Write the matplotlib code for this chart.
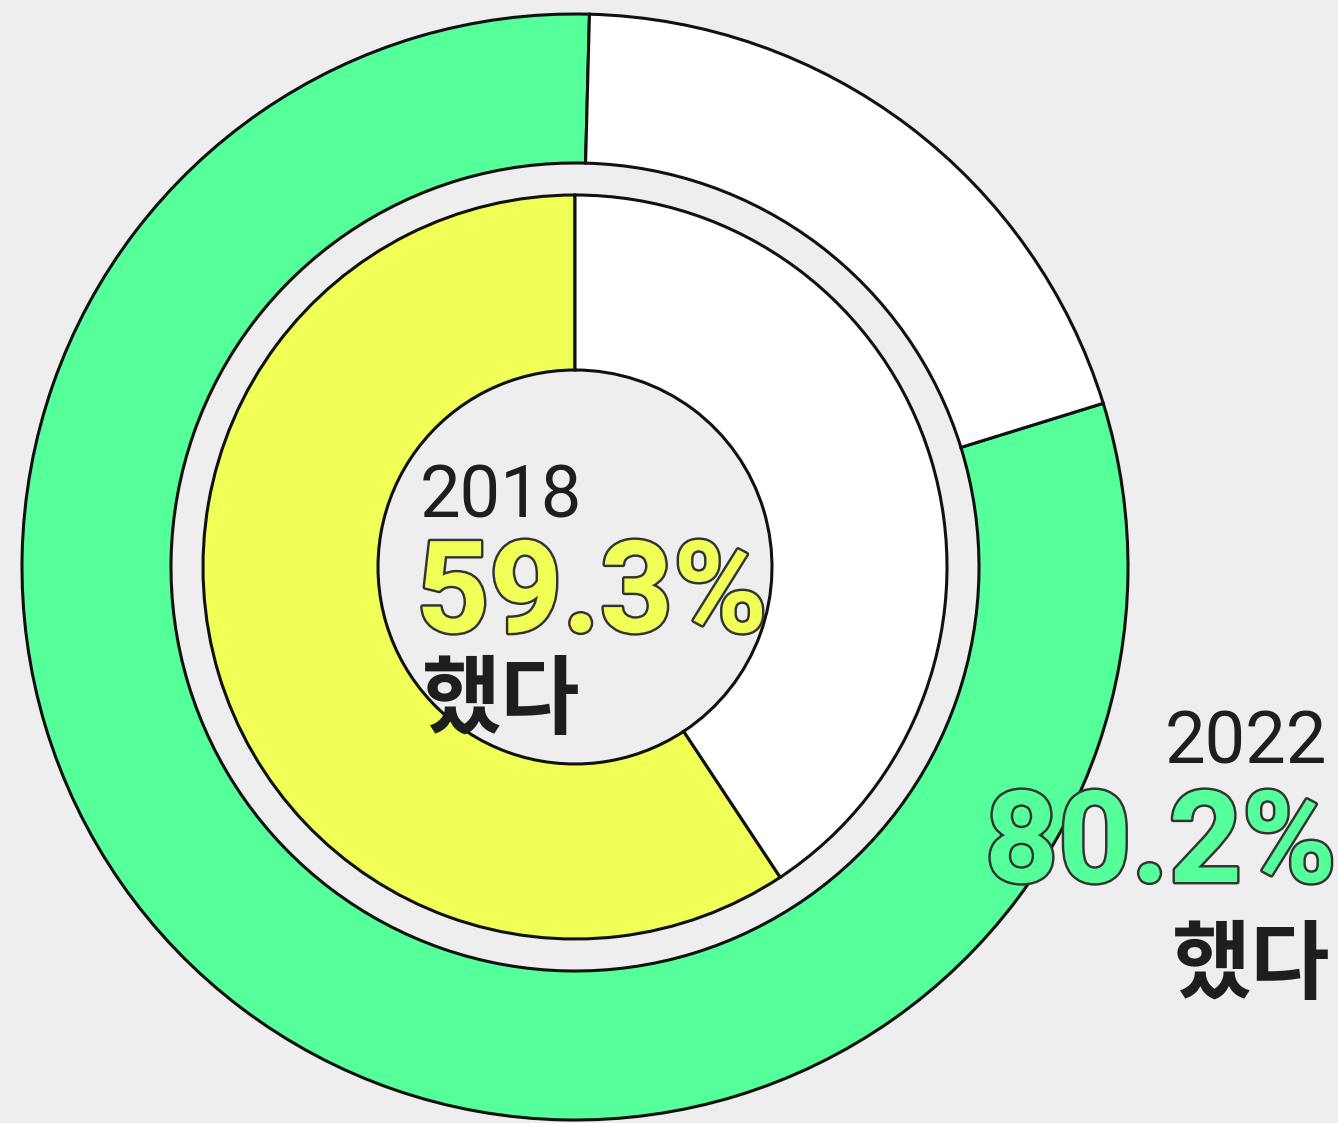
import matplotlib
matplotlib.use("Agg")
import matplotlib.pyplot as plt
import matplotlib.patheffects as pe

# Data
years = ["2022", "2018"]
outer_values = [80.2, 19.8]   # 2022: 했다 / 나머지
inner_values = [59.3, 40.7]   # 2018: 했다 / 나머지
outer_label = "80.2%"
inner_label = "59.3%"
verb = "했다"

BG = "#EEEEEE"
GREEN = "#55FF99"
YELLOW = "#F0FF55"
WHITE = "#FFFFFF"
INK = "#1E1E1E"

W, H = 1338, 1123
fig = plt.figure(figsize=(W / 100, H / 100), dpi=100, facecolor=BG)
ax = fig.add_axes([0, 0, 1, 1])
ax.set_facecolor(BG)

cx, cy = 575, H - 567
r_out, r_out_in = 553, 404
r_in, r_in_in = 372, 197

ax.pie(outer_values, colors=[GREEN, WHITE], startangle=88.5, counterclock=True,
       radius=r_out, center=(cx, cy), frame=True,
       wedgeprops=dict(width=r_out - r_out_in, edgecolor="#111111", linewidth=2.2))
ax.pie(inner_values, colors=[YELLOW, WHITE], startangle=90, counterclock=True,
       radius=r_in, center=(cx, cy), frame=True,
       wedgeprops=dict(width=r_in - r_in_in, edgecolor="#111111", linewidth=2.2))
ax.set_xlim(0, W)
ax.set_ylim(0, H)
ax.set_aspect("equal")
ax.axis("off")

def yy(py):
    return H - py

outline = [pe.Stroke(linewidth=3.5, foreground="#333333"), pe.Normal()]

# 2018 labels (center)
ax.text(420, yy(517), years[1], fontsize=52, family=["Roboto", "DejaVu Sans"],
        color=INK, ha="left", va="baseline")
ax.text(416, yy(632), inner_label, fontsize=92, family=["Roboto", "DejaVu Sans"],
        fontweight="bold", color=YELLOW, ha="left", va="baseline", path_effects=outline)
ax.text(422, yy(702), verb, fontsize=62, family=["Noto Sans CJK KR", "DejaVu Sans"],
        fontweight="bold", color=INK, ha="left", va="center")

# 2022 labels (right)
ax.text(1327, yy(763), years[0], fontsize=52, family=["Roboto", "DejaVu Sans"],
        color=INK, ha="right", va="baseline")
ax.text(1336, yy(882), outer_label, fontsize=92, family=["Roboto", "DejaVu Sans"],
        fontweight="bold", color=GREEN, ha="right", va="baseline", path_effects=outline)
ax.text(1330, yy(967), verb, fontsize=62, family=["Noto Sans CJK KR", "DejaVu Sans"],
        fontweight="bold", color=INK, ha="right", va="center")

fig.savefig("out.png", dpi=100, facecolor=BG)
